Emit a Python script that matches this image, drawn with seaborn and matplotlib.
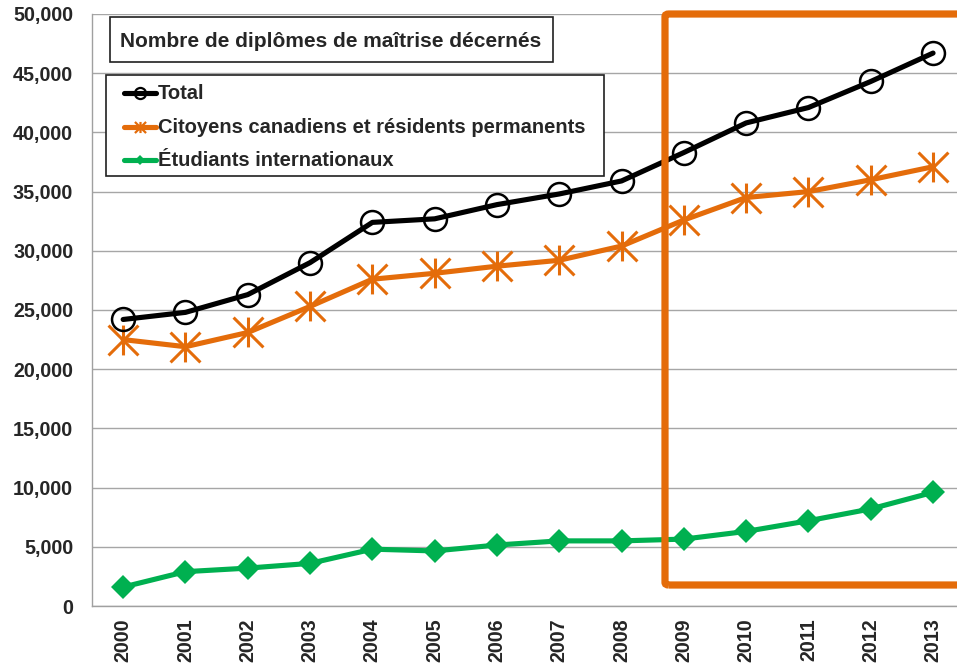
import numpy as np
import pandas as pd
import matplotlib
matplotlib.use("Agg")
import matplotlib.pyplot as plt
from matplotlib.path import Path
from matplotlib.patches import Rectangle, FancyBboxPatch
from matplotlib.lines import Line2D
import seaborn as sns

years = [2000, 2001, 2002, 2003, 2004, 2005, 2006, 2007, 2008, 2009, 2010, 2011, 2012, 2013]
total = [24200, 24800, 26300, 29000, 32400, 32700, 33900, 34800, 35900, 38300, 40800, 42100, 44300, 46700]
citoyens = [22500, 21900, 23100, 25300, 27600, 28100, 28700, 29200, 30400, 32600, 34500, 35000, 36000, 37100]
internationaux = [1600, 2900, 3200, 3600, 4800, 4650, 5150, 5500, 5500, 5650, 6300, 7200, 8200, 9600]

labels = ["Total", "Citoyens canadiens et résidents permanents", "Étudiants internationaux"]
title = "Nombre de diplômes de maîtrise décernés"
yticks = [0, 5000, 10000, 15000, 20000, 25000, 30000, 35000, 40000, 45000, 50000]

BLACK = "#000000"
ORANGE = "#E46C0A"
GREEN = "#00B050"

sns.set_theme(style="white")
plt.rcParams["font.family"] = ["Liberation Sans", "DejaVu Sans"]
plt.rcParams["font.weight"] = "bold"

df = pd.DataFrame({
    "pos": np.arange(len(years)),
    "Total": total,
    "Citoyens": citoyens,
    "Internationaux": internationaux,
})

# asterisk marker: vertical bar crossed by an X
star = Path(
    [(0, -1), (0, 1), (-1, -1), (1, 1), (-1, 1), (1, -1)],
    [Path.MOVETO, Path.LINETO, Path.MOVETO, Path.LINETO, Path.MOVETO, Path.LINETO],
)

W, H = 957, 666
fig = plt.figure(figsize=(W / 100, H / 100), dpi=100)
x0, x1 = 92, 92 + 14 * 62.3
y_top, y_bot = 14, 606
ax = fig.add_axes([x0 / W, (H - y_bot) / H, (x1 - x0) / W, (y_bot - y_top) / H])

sns.lineplot(data=df, x="pos", y="Internationaux", ax=ax, color=GREEN, lw=3.7,
             marker="D", markersize=12.5, markeredgewidth=0, markerfacecolor=GREEN, zorder=3)
sns.lineplot(data=df, x="pos", y="Citoyens", ax=ax, color=ORANGE, lw=3.7,
             marker=star, markersize=21.5, markeredgewidth=2.2, markeredgecolor=ORANGE,
             markerfacecolor="none", zorder=4)
sns.lineplot(data=df, x="pos", y="Total", ax=ax, color=BLACK, lw=3.7,
             marker="o", markersize=16.5, markeredgewidth=1.8, markeredgecolor=BLACK,
             markerfacecolor="none", zorder=5)

ax.set_xlim(-0.5, len(years) - 0.5)
ax.set_ylim(0, 50000)
ax.set_yticks(yticks)
ax.set_yticklabels([f"{v:,}" for v in yticks], fontsize=14.2, fontweight="bold")
ax.set_xticks(np.arange(len(years)))
ax.set_xticklabels([str(y) for y in years], rotation=90, fontsize=14.2, fontweight="bold")
ax.set_xticks(np.arange(len(years) + 1) - 0.5, minor=True)
ax.tick_params(axis="x", which="major", length=0, pad=9)
ax.tick_params(axis="x", which="minor", length=4.5, width=1, color="#A0A0A0", direction="out")
ax.tick_params(axis="y", which="major", length=5, width=1, color="#A0A0A0", direction="out", pad=8.6)
ax.set_xlabel("")
ax.set_ylabel("")
ax.grid(axis="y", color="#A6A6A6", lw=1)
ax.set_axisbelow(True)
for side in ("top", "right"):
    ax.spines[side].set_visible(False)
for side in ("left", "bottom"):
    ax.spines[side].set_color("#A0A0A0")
    ax.spines[side].set_linewidth(1)

def fx(px):
    return px / W

def fy(py):
    return 1 - py / H

# title box
fig.patches.append(Rectangle((fx(110), fy(62)), fx(553) - fx(110), fy(17) - fy(62),
                             transform=fig.transFigure, fill=True, facecolor="white",
                             edgecolor="#202020", lw=1.2, zorder=10))
fig.text(fx(120), fy(47), title, fontsize=15, fontweight="bold", va="baseline", ha="left", zorder=11)

# legend box with its three entries
fig.patches.append(Rectangle((fx(106), fy(176)), fx(604) - fx(106), fy(75) - fy(176),
                             transform=fig.transFigure, fill=True, facecolor="white",
                             edgecolor="#202020", lw=1.2, zorder=10))
legend_styles = [
    dict(color=BLACK, marker="o", markersize=8, markerfacecolor="none", markeredgewidth=1.6),
    dict(color=ORANGE, marker=star, markersize=8, markeredgewidth=1.6),
    dict(color=GREEN, marker="D", markersize=5.5, markeredgewidth=0),
]
baselines = [99, 133, 166]
for lab, style, base in zip(labels, legend_styles, baselines):
    yc = fy(base - 6.5)
    fig.add_artist(Line2D([fx(124), fx(140), fx(156)], [yc, yc, yc], lw=3.7,
                          transform=fig.transFigure, markevery=[1], zorder=12, **style))
    fig.text(fx(157.5), fy(base), lab, fontsize=14.5, fontweight="bold", va="baseline",
             ha="left", zorder=12)

# highlight frame around recent years
frame = FancyBboxPatch((fx(665), fy(585)), fx(1000) - fx(665), fy(14) - fy(585),
                       boxstyle="round,pad=0,rounding_size=0.004",
                       transform=fig.transFigure, fill=False, edgecolor=ORANGE, lw=5.2, zorder=20)
fig.patches.append(frame)

fig.savefig("out.png", dpi=100)
